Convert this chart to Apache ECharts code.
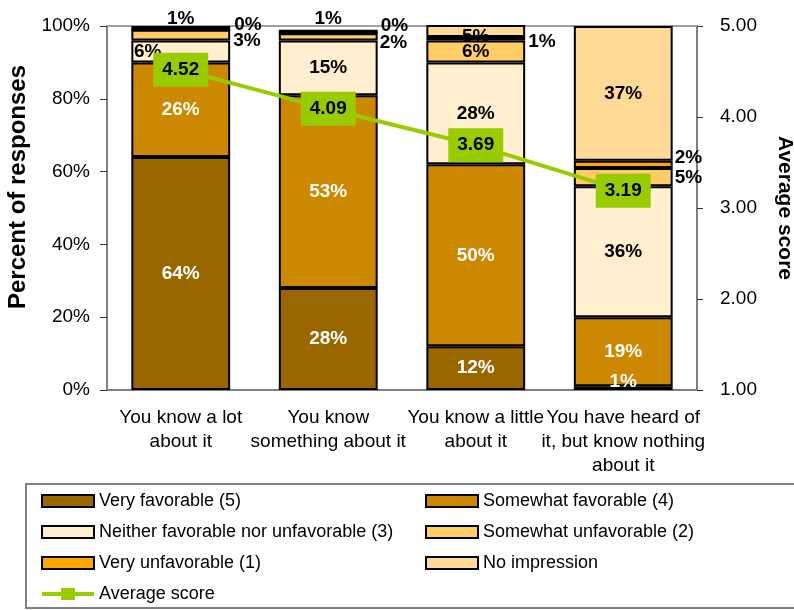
<!DOCTYPE html>
<html>
<head>
<meta charset="utf-8">
<title>Favorability by familiarity</title>
<script src="https://cdn.jsdelivr.net/npm/echarts@6/dist/echarts.min.js"></script>
<style>
  html, body { margin: 0; padding: 0; background: #ffffff; }
  #chart { width: 794px; height: 610px; }
</style>
</head>
<body>
<div id="chart"></div>
<script>
// Familiarity groups (x axis)
const categories = [
  'You know a lot\nabout it',
  'You know\nsomething about it',
  'You know a little\nabout it',
  'You have heard of\nit, but know nothing\nabout it'
];

// Share of responses per rating, in percent
const veryFavorable       = [64, 28, 12, 1];
const somewhatFavorable   = [26, 53, 50, 19];
const neitherFavorable    = [6, 15, 28, 36];
const somewhatUnfavorable = [3, 2, 6, 5];
const veryUnfavorable     = [0, 0, 1, 2];
const noImpression        = [1, 1, 5, 37];

// Mean rating on the 1-5 scale
const averageScore = [4.52, 4.09, 3.69, 3.19];

const FONT = '"Liberation Sans", Arial, Helvetica, sans-serif';

const ratingSeries = [
  { name: 'Very favorable (5)', values: veryFavorable, color: '#996600', text: '#ffffff' },
  { name: 'Somewhat favorable (4)', values: somewhatFavorable, color: '#CC8800', text: '#ffffff' },
  { name: 'Neither favorable nor unfavorable (3)', values: neitherFavorable, color: '#FFEFCF', text: '#000000' },
  { name: 'Somewhat unfavorable (2)', values: somewhatUnfavorable, color: '#FFCC66', text: '#000000' },
  { name: 'Very unfavorable (1)', values: veryUnfavorable, color: '#FFA500', text: '#000000' },
  { name: 'No impression', values: noImpression, color: '#FFDA97', text: '#000000' }
];

// Label placement for the thin segments, keyed by series then category index
const labelTweaks = {
  'Very favorable (5)': { 3: { offset: [0, -6] } },
  'Neither favorable nor unfavorable (3)': { 0: { offset: [-33, 0] } },
  'Somewhat unfavorable (2)': {
    0: { position: 'right', distance: 3, offset: [0, 6] },
    1: { position: 'right', distance: 2, offset: [0, 6] },
    3: { position: 'right', distance: 2, offset: [0, 1] }
  },
  'Very unfavorable (1)': {
    0: { position: 'right', distance: 3, offset: [0, -5] },
    1: { position: 'right', distance: 2, offset: [0, -8] },
    2: { position: 'right', distance: 3, offset: [0, 3] },
    3: { position: 'right', distance: 2, offset: [0, -7] }
  },
  'No impression': {
    0: { offset: [0, -9] },
    1: { offset: [0, -13] },
    2: { offset: [0, 6] }
  }
};

const barSeries = ratingSeries.map(s => ({
  name: s.name,
  type: 'bar',
  stack: 'share',
  yAxisIndex: 0,
  barCategoryGap: '33%',
  itemStyle: { color: s.color, borderColor: '#000000', borderWidth: 2 },
  label: {
    show: true,
    position: 'inside',
    formatter: '{c}%',
    color: s.text,
    fontFamily: FONT,
    fontSize: 19,
    fontWeight: 'bold'
  },
  data: s.values.map((v, i) => {
    const tweak = (labelTweaks[s.name] || {})[i];
    return tweak ? { value: v, label: tweak } : v;
  })
}));

const lineSeries = {
  name: 'Average score',
  type: 'line',
  yAxisIndex: 1,
  z: 4,
  symbol: 'rect',
  symbolSize: 10,
  lineStyle: { color: '#99CC00', width: 4 },
  itemStyle: { color: '#99CC00' },
  label: {
    show: true,
    position: 'inside',
    formatter: p => p.value.toFixed(2),
    color: '#000000',
    backgroundColor: '#99CC00',
    padding: [8, 9, 7, 9],
    fontFamily: FONT,
    fontSize: 19,
    fontWeight: 'bold'
  },
  data: averageScore
};

// Legend key for the score line: thick stroke with a square marker in the middle
const lineKeyIcon = 'path://M0,4 L19,4 L19,0 L33,0 L33,4 L52,4 L52,8 L33,8 L33,12 L19,12 L19,8 L0,8 Z';

const legendText = { color: '#000000', fontFamily: FONT, fontSize: 18, lineHeight: 18 };
const legendCommon = {
  orient: 'vertical',
  top: 492,
  padding: 0,
  height: 120,
  icon: 'rect',
  itemWidth: 52,
  itemHeight: 12,
  itemGap: 13,
  textStyle: legendText
};

const option = {
  animation: false,
  backgroundColor: '#ffffff',
  textStyle: { fontFamily: FONT },
  grid: { left: 107, right: 97, top: 26, bottom: 220, outerBoundsMode: 'none', containLabel: false },
  xAxis: [
    {
      type: 'category',
      data: categories,
      position: 'bottom',
      axisLine: { lineStyle: { color: '#808080', width: 2 } },
      axisTick: { length: 6, lineStyle: { color: '#333333' } },
      axisLabel: { color: '#000000', fontSize: 19, lineHeight: 24, margin: 16, interval: 0 }
    },
    {
      // plot-area top edge
      type: 'category',
      data: categories,
      position: 'top',
      axisLine: { lineStyle: { color: '#a0a0a0', width: 2 } },
      axisTick: { show: false },
      axisLabel: { show: false }
    }
  ],
  yAxis: [
    {
      type: 'value',
      min: 0, max: 100, interval: 20,
      name: 'Percent of responses',
      nameLocation: 'middle',
      nameRotate: 90,
      nameGap: 77,
      nameTextStyle: { color: '#000000', fontSize: 24, fontWeight: 'bold', padding: [0, 0, 0, 42] },
      axisLine: { show: true, lineStyle: { color: '#808080', width: 2 } },
      axisTick: { show: true, length: 7, lineStyle: { color: '#333333' } },
      axisLabel: { formatter: '{value}%', color: '#000000', fontSize: 19, margin: 17 },
      splitLine: { show: false }
    },
    {
      type: 'value',
      position: 'right',
      min: 1, max: 5, interval: 1,
      name: 'Average score',
      nameLocation: 'middle',
      nameRotate: -90,
      nameGap: 77,
      nameTextStyle: { color: '#000000', fontSize: 21, fontWeight: 'bold' },
      axisLine: { show: true, lineStyle: { color: '#808080', width: 2 } },
      axisTick: { show: true, length: 6, lineStyle: { color: '#333333' } },
      axisLabel: { formatter: v => v.toFixed(2), color: '#000000', fontSize: 19, margin: 23 },
      splitLine: { show: false }
    }
  ],
  legend: [
    Object.assign({}, legendCommon, {
      left: 41,
      data: [
        'Very favorable (5)',
        'Neither favorable nor unfavorable (3)',
        'Very unfavorable (1)',
        { name: 'Average score', icon: lineKeyIcon, itemStyle: { color: '#99CC00', borderWidth: 0 } }
      ]
    }),
    Object.assign({}, legendCommon, {
      left: 425,
      data: ['Somewhat favorable (4)', 'Somewhat unfavorable (2)', 'No impression']
    })
  ],
  graphic: [
    {
      type: 'rect',
      silent: true,
      z: -1,
      shape: { x: 26, y: 484, width: 800, height: 124 },
      style: { fill: 'none', stroke: '#808080', lineWidth: 2 }
    }
  ],
  series: [...barSeries, lineSeries]
};

const chart = echarts.init(document.getElementById('chart'), null, { renderer: 'canvas' });
chart.setOption(option);
</script>
</body>
</html>
